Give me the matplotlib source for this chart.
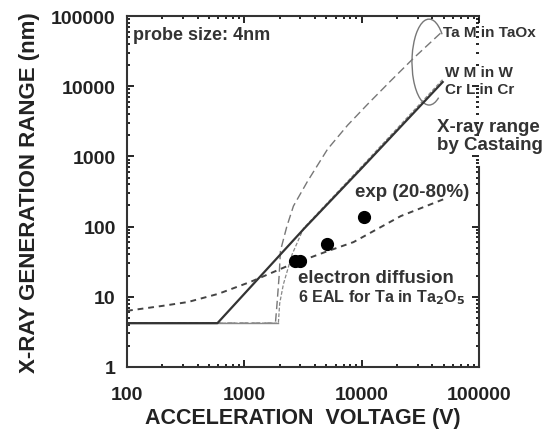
import numpy as np
import matplotlib
matplotlib.use("Agg")
from matplotlib import pyplot as plt
from matplotlib.patches import Arc
from matplotlib.ticker import FixedLocator, FixedFormatter, LogLocator, NullFormatter

plt.rcParams['font.family'] = ['Liberation Sans', 'DejaVu Sans']
plt.rcParams['font.weight'] = 'bold'

# Castaing x-ray range, Cr L in Cr
cr_v = [100, 590, 1000, 3200, 10000, 49000]
cr_r = [4.2, 4.2, 11, 92, 680, 11500]

# W M in W
w_v = [100, 1950, 2000, 2150, 2550, 3200, 10000, 49000]
w_r = [4.2, 4.2, 8, 15, 40, 95, 720, 12500]

# Ta M in TaOx
ta_v = [100, 1840, 1900, 1980, 2030, 2300, 2620, 3450, 5120, 7590, 11200, 17800, 27700, 47300]
ta_r = [4.2, 4.2, 8, 20, 45, 100, 196, 440, 1270, 2790, 5520, 12100, 25200, 57800]

# electron diffusion, 6 EAL for Ta in Ta2O5
ed_v = [100, 200, 330, 600, 1130, 2340, 5000, 8500, 21500, 50000]
ed_r = [6.3, 7.4, 8.4, 11, 16.3, 27.5, 44, 60, 141, 246]

# experiment (20-80%)
exp_v = [2700, 3000, 5100, 10400]
exp_r = [32.5, 32.5, 56, 137]

xticks = [100, 1000, 10000, 100000]
xlabels = ['100', '1000', '10000', '100000']
yticks = [1, 10, 100, 1000, 10000, 100000]
ylabels = ['1', '10', '100', '1000', '10000', '100000']

fig = plt.figure(figsize=(5.45, 4.39), dpi=100)
ax = fig.add_axes([0.233, 0.162, 0.646, 0.799])
ax.set_xscale('log')
ax.set_yscale('log')
ax.set_xlim(100, 100000)
ax.set_ylim(1, 100000)

ax.plot(w_v, w_r, color='#888888', lw=0.9, ls=(0, (3, 1.5)))
ax.plot(ta_v, ta_r, color='#777777', lw=1.0, ls=(0, (6, 3)))
ax.plot(w_v[:2], w_r[:2], color='#888888', lw=1.0)
ax.plot(cr_v, cr_r, color='#333333', lw=1.6)
ax.plot(ed_v, ed_r, color='#444444', lw=1.4, ls=(0, (3, 2.5)))
ax.plot(exp_v, exp_r, 'o', color='black', ms=8.5)

# oval round the Castaing curves
ax.add_patch(Arc((0.858, 0.869), 0.097, 0.245, theta1=65, theta2=285,
                 transform=ax.transAxes, color='#777777', lw=1.0))

ax.xaxis.set_major_locator(FixedLocator(xticks))
ax.xaxis.set_major_formatter(FixedFormatter(xlabels))
ax.yaxis.set_major_locator(FixedLocator(yticks))
ax.yaxis.set_major_formatter(FixedFormatter(ylabels))
ax.xaxis.set_minor_locator(LogLocator(base=10, subs=np.arange(2, 10)))
ax.yaxis.set_minor_locator(LogLocator(base=10, subs=np.arange(2, 10)))
ax.xaxis.set_minor_formatter(NullFormatter())
ax.yaxis.set_minor_formatter(NullFormatter())
ax.tick_params(which='both', direction='in', top=True, right=True, labelsize=14, width=1.2)
ax.tick_params(which='major', length=5)
ax.tick_params(which='minor', length=2.5)
ax.tick_params(axis='x', pad=14)
ax.tick_params(axis='y', pad=8)
for lab in ax.get_xticklabels() + ax.get_yticklabels():
    lab.set_fontweight('bold')
    lab.set_color('#222222')

for s in ax.spines.values():
    s.set_linewidth(1.5)
    s.set_color('#333333')
ax.spines['right'].set_bounds(1, 700)

ax.set_xlabel('ACCELERATION  VOLTAGE (V)', fontsize=15.5, fontweight='bold', color='#222222', labelpad=3)
ax.set_ylabel('X-RAY GENERATION RANGE (nm)', fontsize=16, fontweight='bold', color='#222222', labelpad=8)

ax.text(0.017, 0.949, 'probe size: 4nm', transform=ax.transAxes, fontsize=13, color='#333333', va='center')
ax.text(0.898, 0.954, 'Ta M in TaOx', transform=ax.transAxes, fontsize=11, color='#333333',
        va='center', clip_on=False)
ax.text(0.903, 0.840, 'W M in W', transform=ax.transAxes, fontsize=11, color='#333333', va='center')
ax.text(0.903, 0.792, 'Cr L in Cr', transform=ax.transAxes, fontsize=11, color='#333333', va='center')
ax.text(0.881, 0.66, 'X-ray range\nby Castaing', transform=ax.transAxes, fontsize=13.5,
        color='#333333', va='center', linespacing=1.1, clip_on=False)
ax.text(0.648, 0.501, 'exp (20-80%)', transform=ax.transAxes, fontsize=13.5, color='#333333', va='center')
ax.text(0.486, 0.256, 'electron diffusion', transform=ax.transAxes, fontsize=13.4, color='#333333', va='center')
ax.text(0.486, 0.199, '6 EAL for Ta in Ta$_\\mathbf{2}$O$_\\mathbf{5}$', transform=ax.transAxes,
        fontsize=11.6, color='#333333', va='center')

fig.savefig('out.png', dpi=100)
